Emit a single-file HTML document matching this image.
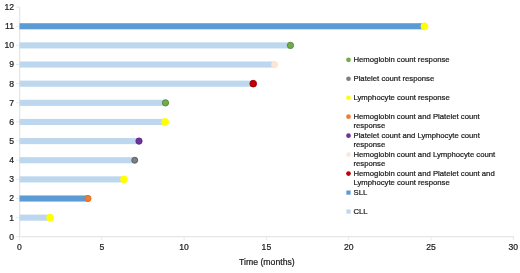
<!DOCTYPE html>
<html><head><meta charset="utf-8"><title>Chart</title>
<style>html,body{margin:0;padding:0;background:#fff}svg{display:block}text{font-family:"Liberation Sans",Arial,sans-serif;fill:#1c1c1c;stroke:#1c1c1c;stroke-width:0.22px}</style></head><body>
<svg width="520" height="273" viewBox="0 0 520 273">
<rect width="520" height="273" fill="#fff"/>
<g stroke="#e9e9e9" stroke-width="1" fill="none">
<line x1="16.0" y1="236.70" x2="19.5" y2="236.70"/>
<line x1="16.0" y1="217.56" x2="19.5" y2="217.56"/>
<line x1="16.0" y1="198.42" x2="19.5" y2="198.42"/>
<line x1="16.0" y1="179.28" x2="19.5" y2="179.28"/>
<line x1="16.0" y1="160.14" x2="19.5" y2="160.14"/>
<line x1="16.0" y1="141.00" x2="19.5" y2="141.00"/>
<line x1="16.0" y1="121.86" x2="19.5" y2="121.86"/>
<line x1="16.0" y1="102.72" x2="19.5" y2="102.72"/>
<line x1="16.0" y1="83.58" x2="19.5" y2="83.58"/>
<line x1="16.0" y1="64.44" x2="19.5" y2="64.44"/>
<line x1="16.0" y1="45.30" x2="19.5" y2="45.30"/>
<line x1="16.0" y1="26.16" x2="19.5" y2="26.16"/>
<line x1="16.0" y1="7.02" x2="19.5" y2="7.02"/>
<line x1="19.50" y1="236.5" x2="19.50" y2="240.3"/>
<line x1="101.80" y1="236.5" x2="101.80" y2="240.3"/>
<line x1="184.10" y1="236.5" x2="184.10" y2="240.3"/>
<line x1="266.40" y1="236.5" x2="266.40" y2="240.3"/>
<line x1="348.70" y1="236.5" x2="348.70" y2="240.3"/>
<line x1="431.00" y1="236.5" x2="431.00" y2="240.3"/>
<line x1="513.30" y1="236.5" x2="513.30" y2="240.3"/>
</g>
<g stroke="#e6e6e6" stroke-width="1.3" fill="none">
<line x1="19.6" y1="7.02" x2="19.6" y2="237.3"/>
<line x1="18.7" y1="236.65" x2="513.80" y2="236.65"/>
</g>
<rect x="19.5" y="23.21" width="404.92" height="6.1" fill="#5B9BD5"/>
<rect x="19.5" y="42.35" width="270.93" height="6.1" fill="#BDD7EE"/>
<rect x="19.5" y="61.49" width="255.13" height="6.1" fill="#BDD7EE"/>
<rect x="19.5" y="80.63" width="233.73" height="6.1" fill="#BDD7EE"/>
<rect x="19.5" y="99.77" width="146.00" height="6.1" fill="#BDD7EE"/>
<rect x="19.5" y="118.91" width="145.67" height="6.1" fill="#BDD7EE"/>
<rect x="19.5" y="138.05" width="119.50" height="6.1" fill="#BDD7EE"/>
<rect x="19.5" y="157.19" width="115.22" height="6.1" fill="#BDD7EE"/>
<rect x="19.5" y="176.33" width="104.52" height="6.1" fill="#BDD7EE"/>
<rect x="19.5" y="195.47" width="68.47" height="6.1" fill="#5B9BD5"/>
<rect x="19.5" y="214.61" width="30.62" height="6.1" fill="#BDD7EE"/>
<circle cx="424.42" cy="26.26" r="3.45" fill="#FFFF00" stroke="#FFFF00" stroke-width="0.9"/>
<circle cx="290.43" cy="45.40" r="3.15" fill="#70AD47" stroke="#548235" stroke-width="0.9"/>
<circle cx="274.63" cy="64.54" r="3.15" fill="#FBE5D6" stroke="#FBE5D6" stroke-width="0.9"/>
<circle cx="253.23" cy="83.68" r="3.35" fill="#C00000" stroke="#a00000" stroke-width="0.9"/>
<circle cx="165.50" cy="102.82" r="3.15" fill="#70AD47" stroke="#548235" stroke-width="0.9"/>
<circle cx="165.17" cy="121.96" r="3.45" fill="#FFFF00" stroke="#FFFF00" stroke-width="0.9"/>
<circle cx="139.00" cy="141.10" r="3.15" fill="#7030A0" stroke="#5b2583" stroke-width="0.9"/>
<circle cx="134.72" cy="160.24" r="3.00" fill="#7F7F7F" stroke="#595959" stroke-width="0.9"/>
<circle cx="124.02" cy="179.38" r="3.45" fill="#FFFF00" stroke="#FFFF00" stroke-width="0.9"/>
<circle cx="87.97" cy="198.52" r="3.15" fill="#ED7D31" stroke="#e0711f" stroke-width="0.9"/>
<circle cx="50.12" cy="217.66" r="3.45" fill="#FFFF00" stroke="#FFFF00" stroke-width="0.9"/>
<g font-size="8.6" text-anchor="end">
<text x="14" y="239.75">0</text>
<text x="14" y="220.61">1</text>
<text x="14" y="201.47">2</text>
<text x="14" y="182.33">3</text>
<text x="14" y="163.19">4</text>
<text x="14" y="144.05">5</text>
<text x="14" y="124.91">6</text>
<text x="14" y="105.77">7</text>
<text x="14" y="86.63">8</text>
<text x="14" y="67.49">9</text>
<text x="14" y="48.35">10</text>
<text x="14" y="29.21">11</text>
<text x="14" y="10.07">12</text>
</g>
<g font-size="8.6" text-anchor="middle">
<text x="19.50" y="250.45">0</text>
<text x="101.80" y="250.45">5</text>
<text x="184.10" y="250.45">10</text>
<text x="266.40" y="250.45">15</text>
<text x="348.70" y="250.45">20</text>
<text x="431.00" y="250.45">25</text>
<text x="513.30" y="250.45">30</text>
<text x="266.9" y="264.7" font-size="8.7">Time (months)</text>
</g>
<g font-size="7.72">
<circle cx="348.5" cy="59.80" r="2.35" fill="#70AD47"/>
<text x="353.5" y="62.10">Hemoglobin count response</text>
<circle cx="348.5" cy="78.77" r="2.35" fill="#7F7F7F"/>
<text x="353.5" y="81.07">Platelet count response</text>
<circle cx="348.5" cy="97.74" r="2.35" fill="#FFFF00"/>
<text x="353.5" y="100.04">Lymphocyte count response</text>
<circle cx="348.5" cy="116.71" r="2.35" fill="#ED7D31"/>
<text x="353.5" y="119.01">Hemoglobin count and Platelet count</text>
<text x="353.5" y="128.21">response</text>
<circle cx="348.5" cy="135.68" r="2.35" fill="#7030A0"/>
<text x="353.5" y="137.98">Platelet count and Lymphocyte count</text>
<text x="353.5" y="147.18">response</text>
<circle cx="348.5" cy="154.65" r="2.35" fill="#F6E9E1"/>
<text x="353.5" y="156.95">Hemoglobin count and Lymphocyte count</text>
<text x="353.5" y="166.15">response</text>
<circle cx="348.5" cy="173.62" r="2.35" fill="#C00000"/>
<text x="353.5" y="175.92">Hemoglobin count and Platelet count and</text>
<text x="353.5" y="185.12">Lymphocyte count response</text>
<rect x="346.4" y="190.49" width="4.2" height="4.2" fill="#5B9BD5"/>
<text x="353.5" y="194.89">SLL</text>
<rect x="346.4" y="209.46" width="4.2" height="4.2" fill="#BDD7EE"/>
<text x="353.5" y="213.86">CLL</text>
</g>
</svg></body></html>
